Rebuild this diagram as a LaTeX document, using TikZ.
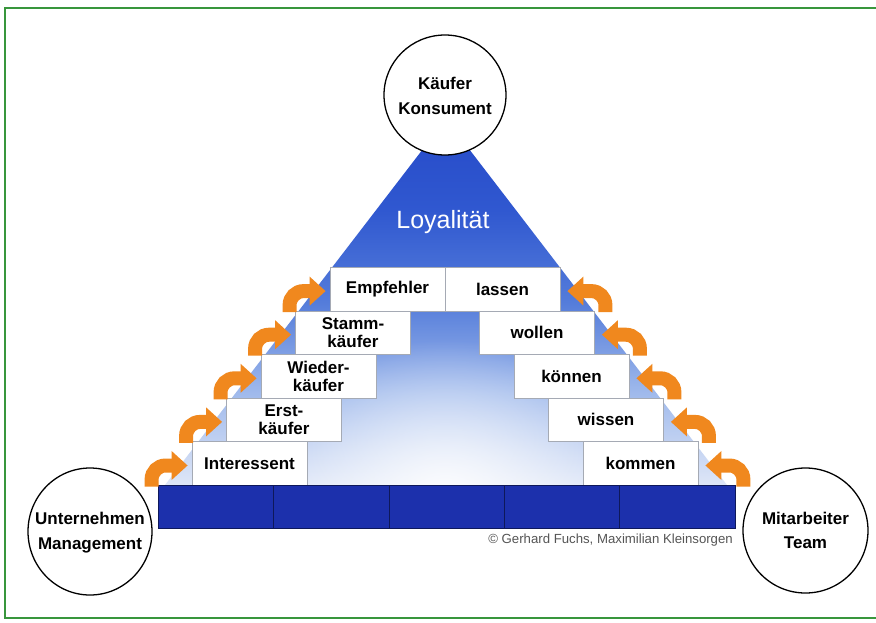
\documentclass[tikz,border=0pt]{standalone}
\usepackage{fontspec}
\setmainfont{Liberation Sans}
\usetikzlibrary{shapes.geometric,arrows.meta,fadings}

\definecolor{framegreen}{RGB}{56,150,60}
\definecolor{barblue}{RGB}{28,48,172}
\definecolor{bardiv}{RGB}{14,24,90}
\definecolor{arroworange}{RGB}{240,136,30}
\definecolor{boxline}{RGB}{165,170,180}
\definecolor{cpgray}{RGB}{85,85,85}
\definecolor{triA}{RGB}{222,230,247}
\definecolor{triB}{RGB}{160,186,236}
\definecolor{triC}{RGB}{84,124,218}
\definecolor{triD}{RGB}{48,88,208}
\definecolor{triE}{RGB}{38,74,200}

% vertical colour ramp of the pyramid (0bp = bottom, 100bp = top)
\pgfdeclareverticalshading{loyalty}{100bp}{%
  color(0bp)=(triA); color(25bp)=(triA); color(37.5bp)=(triB);
  color(50bp)=(triC); color(62.5bp)=(triD); color(75bp)=(triE);
  color(100bp)=(triE)}

% soft radial glow: opaque centre, transparent rim
\tikzfading[name=glowfade, inner color=transparent!0, outer color=transparent!100]

\begin{document}
\begin{tikzpicture}[x=1pt,y=-1pt,
  stepbox/.style={draw=boxline, line width=0.8, fill=white,
    minimum width=115, minimum height=43.6, inner sep=0, align=center,
    font=\fontsize{17}{17.5}\selectfont\bfseries},
  roundnode/.style={ellipse, draw=black, line width=1.3, fill=white,
    inner sep=0},
  roundtext/.style={align=center, fill=white, inner sep=1,
    font=\fontsize{17}{24.5}\selectfont\bfseries},
  orangearrow/.style={draw=arroworange, line width=14, rounded corners=14,
    -{Triangle[length=16pt,width=28pt]}},
]
\clip (0,0) rectangle (876,622);
\fill[white] (0,0) rectangle (876,622);

% green frame
\draw[framegreen, line width=2.2] (5,8) rectangle (900,618);

% pyramid
\coordinate (apex) at (446,119);
\coordinate (bl) at (165,485);
\coordinate (br) at (727,485);
\shade[shading=loyalty] (apex) -- (bl) -- (br) -- cycle;
\begin{scope}
  \clip (apex) -- (bl) -- (br) -- cycle;
  \fill[white, path fading=glowfade, opacity=0.95]
    (445,500) ellipse [x radius=180, y radius=160];
\end{scope}

\node[text=white, font=\fontsize{25}{25}\selectfont, inner sep=0]
  (loyal) at (443,222) {Loyalität};

% buyer steps (left) and employee steps (right)
\node[stepbox] (int)   at (249.5,463.5) {Interessent};
\node[stepbox] (erst)  at (284.0,419.9) {Erst-\\käufer};
\node[stepbox] (wied)  at (318.5,376.3) {Wieder-\\käufer};
\node[stepbox] (stamm) at (353.0,332.7) {Stamm-\\käufer};
\node[stepbox] (empf)  at (387.5,289.1) {Empfehler};

\node[stepbox] (kommen) at (640.5,463.5) {kommen};
\node[stepbox] (wissen) at (606.0,419.9) {wissen};
\node[stepbox] (koenn)  at (571.5,376.3) {können};
\node[stepbox] (wollen) at (537.0,332.7) {wollen};
\node[stepbox] (lassen) at (502.5,289.1) {lassen};

% foundation bar
\fill[barblue] (158,485) rectangle (735,528);
\draw[bardiv, line width=0.6] (158,485) rectangle (735,528);
\foreach \xx in {273.4,388.8,504.2,619.6}
  \draw[bardiv, line width=0.6] (\xx,485) -- (\xx,528);

\node[anchor=base east, text=cpgray, font=\fontsize{13.2}{15}\selectfont,
  inner sep=0] (copy) at (733,543) {© Gerhard Fuchs, Maximilian Kleinsorgen};

% orange step arrows
\foreach \b in {int,erst,wied,stamm,empf}
  \draw[orangearrow] ([shift={(-40,23)}]\b.west) |- ([shift={(-4,2)}]\b.west);
\foreach \b in {kommen,wissen,koenn,wollen,lassen}
  \draw[orangearrow] ([shift={(45,23)}]\b.east) |- ([shift={(7,2)}]\b.east);

% actors
\node[roundnode, minimum width=122, minimum height=120] (kaeufer) at (445,95) {};
\node[roundtext, fill=none] at ([yshift=-1]kaeufer.center) {Käufer\\Konsument};

\node[roundnode, minimum width=124, minimum height=127] (unter) at (90,531.5) {};
\node[roundtext] at ([yshift=-1]unter.center) {Unternehmen\\Management};

\node[roundnode, minimum width=125, minimum height=125] (mitarb) at (805.5,530.5) {};
\node[roundtext] at (mitarb.center) {Mitarbeiter\\Team};
\end{tikzpicture}
\end{document}
